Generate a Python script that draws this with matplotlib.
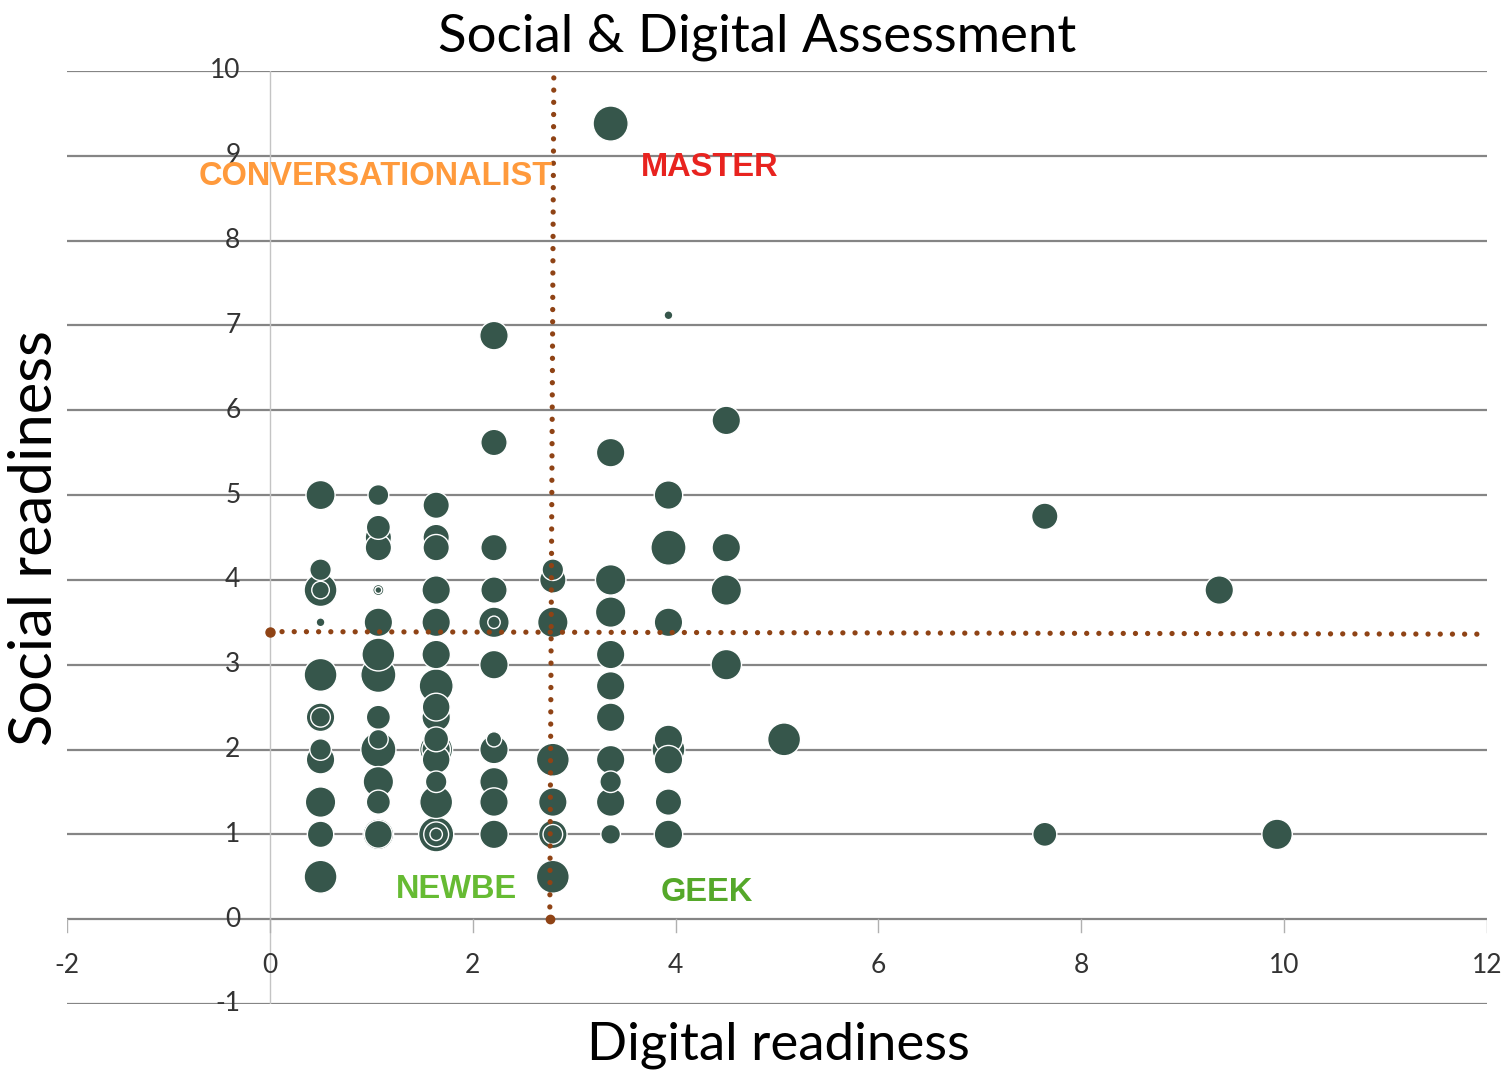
import matplotlib
matplotlib.use("Agg")
import matplotlib.pyplot as plt
import numpy as np

# ---- data (digital readiness, social readiness, bubble value) ----
x_vals = [
    # column 0.5
    0.5, 0.5, 0.5, 0.5, 0.5, 0.5, 0.5, 0.5, 0.5, 0.5, 0.5, 0.5, 0.5,
    # column 1.07
    1.07, 1.07, 1.07, 1.07, 1.07, 1.07, 1.07, 1.07, 1.07, 1.07, 1.07, 1.07, 1.07, 1.07, 1.07, 1.07,
    # column 1.64
    1.64, 1.64, 1.64, 1.64, 1.64, 1.64, 1.64, 1.64, 1.64, 1.64, 1.64, 1.64, 1.64, 1.64, 1.64, 1.64, 1.64, 1.64,
    # column 2.21
    2.21, 2.21, 2.21, 2.21, 2.21, 2.21, 2.21, 2.21, 2.21, 2.21, 2.21, 2.21, 2.21,
    # column 2.79
    2.79, 2.79, 2.79, 2.79, 2.79, 2.79, 2.79, 2.79,
    # column 3.36
    3.36, 3.36, 3.36, 3.36, 3.36, 3.36, 3.36, 3.36, 3.36, 3.36, 3.36,
    # column 3.93
    3.93, 3.93, 3.93, 3.93, 3.93, 3.93, 3.93, 3.93, 3.93,
    # column 4.5
    4.5, 4.5, 4.5, 4.5,
    # others
    5.07, 7.64, 7.64, 9.36, 9.93,
]
y_vals = [
    5.0, 4.12, 3.88, 3.88, 3.5, 2.88, 2.38, 2.38, 2.0, 1.88, 1.38, 1.0, 0.5,
    5.0, 4.62, 4.5, 4.38, 3.88, 3.88, 3.5, 3.12, 2.88, 2.38, 2.12, 2.0, 1.62, 1.38, 1.0, 1.0,
    4.88, 4.5, 4.38, 3.88, 3.5, 3.12, 2.75, 2.5, 2.38, 2.12, 2.0, 2.0, 1.88, 1.62, 1.38, 1.0, 1.0, 1.0,
    6.88, 5.62, 4.38, 3.88, 3.5, 3.5, 3.0, 2.12, 2.0, 1.62, 1.38, 1.0, 1.0,
    4.12, 4.0, 3.5, 1.88, 1.38, 1.0, 1.0, 0.5,
    9.38, 5.5, 4.0, 3.62, 3.12, 2.75, 2.38, 1.88, 1.62, 1.38, 1.0,
    7.12, 5.0, 4.38, 3.5, 2.12, 2.0, 1.88, 1.38, 1.0,
    5.88, 4.38, 3.88, 3.0,
    2.12, 4.75, 1.0, 3.88, 1.0,
]
bubble_vals = [
    11, 6, 14, 4, 1, 14, 10.5, 5, 6, 10.5, 12, 9, 14,
    5.6, 7.5, 9, 9, 1.6, 0.6, 10.5, 14, 16, 7.5, 5, 16, 12, 7.5, 12, 10,
    9, 9, 9, 10.5, 10.5, 10.5, 15, 10, 10.5, 8, 14, 10.5, 10, 6, 14, 16, 8, 2,
    10.5, 9, 9, 9, 12, 2, 10.5, 3, 10.5, 10.5, 10.5, 10.5, 10.5,
    6, 9, 12, 14, 10.5, 10.5, 5, 14,
    16, 10.5, 12, 12, 10.5, 10.5, 10.5, 10.5, 6, 10.5, 5,
    1, 10.5, 16, 10.5, 10.5, 14, 10.5, 9, 10.5,
    10.5, 10.5, 12, 12,
    14, 9, 7.5, 10.5, 12,
]

# threshold lines
vline_x = [2.76, 2.80]
vline_y = [0, 10]
hline_x = [0, 11.93]
hline_y = [3.39, 3.36]

quadrants = ["CONVERSATIONALIST", "MASTER", "NEWBE", "GEEK"]
quad_x = [1.04, 4.34, 1.84, 4.31]
quad_y = [8.76, 8.86, 0.35, 0.31]
quad_colors = ["#ff9a3c", "#e8231f", "#66bb33", "#55a82a"]

x_ticks = [-2, 0, 2, 4, 6, 8, 10, 12]
y_ticks = [-1, 0, 1, 2, 3, 4, 5, 6, 7, 8, 9, 10]

title = "Social & Digital Assessment"
xlabel = "Digital readiness"
ylabel = "Social readiness"

# ---- figure ----
fig = plt.figure(figsize=(15.08, 10.77), dpi=100)
ax = fig.add_axes([0.0444, 0.0678, 0.9417, 0.8663])
ax.set_xlim(-2, 12)
ax.set_ylim(-1, 10)
ax.axis("off")

font_main = "Lato"
grid_col = "#858585"

# gridlines
for yv in y_ticks:
    ax.plot([-2, 12], [yv, yv], color=grid_col, lw=1.6, zorder=1, solid_capstyle="butt")
# vertical axis at x=0
ax.plot([0, 0], [-1, 10], color="#c4c4c4", lw=1.0, zorder=1)
# x tick marks below y=0
for xv in x_ticks:
    ax.plot([xv, xv], [0, -0.15], color="#b0b0b0", lw=1.0, zorder=1)

# tick labels
for xv in x_ticks:
    ax.text(xv, -0.55, str(xv), ha="center", va="center", fontsize=19,
            family=font_main, color="#333333")
for yv in y_ticks:
    ax.text(-0.29, yv, str(yv), ha="right", va="center", fontsize=19,
            family=font_main, color="#333333")

# bubbles: larger first so smaller sit on top
xs = np.array(x_vals)
ys = np.array(y_vals)
vs = np.array(bubble_vals)
order = np.argsort(-vs, kind="stable")
ax.scatter(xs[order], ys[order], s=vs[order] * 40, color="#36564b",
           edgecolors="white", linewidths=1.0, zorder=3)

# dotted threshold lines
dot_col = "#8f4315"
ax.plot(vline_x, vline_y, color=dot_col, lw=3.8, linestyle=(0, (0.01, 2.3)),
        dash_capstyle="round", zorder=4, marker="o", markersize=6, markevery=[0])
ax.plot(hline_x, hline_y, color=dot_col, lw=3.8, linestyle=(0, (0.01, 2.3)),
        dash_capstyle="round", zorder=4, marker="o", markersize=6.5, markevery=[0])

# quadrant labels
for t, qx, qy, c in zip(quadrants, quad_x, quad_y, quad_colors):
    ax.text(qx, qy, t, ha="center", va="center", fontsize=23.5, fontweight="bold",
            family="Liberation Sans", color=c, zorder=5)

fig.text(0.502, 0.965, title, ha="center", va="center", fontsize=38, family=font_main)
fig.text(0.516, 0.0297, xlabel, ha="center", va="center", fontsize=38, family=font_main)
fig.text(0.0235, 0.5005, ylabel, ha="center", va="center", fontsize=43,
         family=font_main, rotation=90)

fig.savefig("out.png", dpi=100)
